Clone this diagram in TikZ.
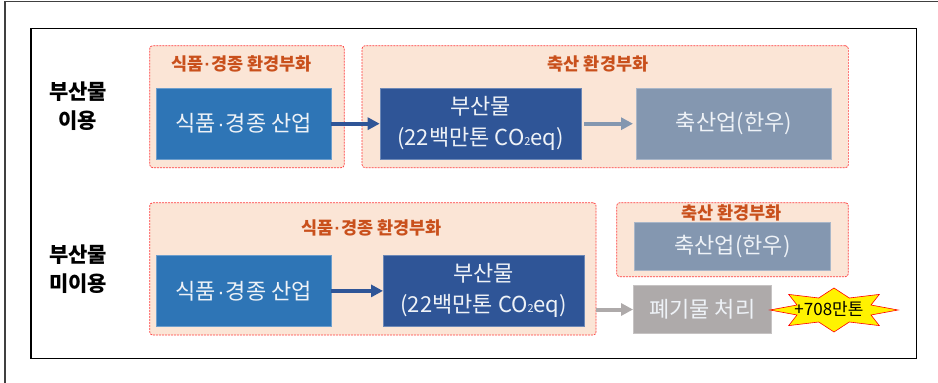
\documentclass[tikz,border=0pt]{standalone}
\usepackage{fontspec}
\setmainfont{Noto Sans CJK KR}
\newfontfamily\dotfont{Liberation Sans}
\usetikzlibrary{arrows.meta}
\definecolor{pinkfill}{HTML}{FBE5D6}
\definecolor{pinkline}{HTML}{FF3B3B}
\definecolor{lblorange}{HTML}{C9501C}
\definecolor{blueA}{HTML}{2E75B6}
\definecolor{blueB}{HTML}{2F5597}
\definecolor{grayblue}{HTML}{8497B0}
\definecolor{wastegray}{HTML}{AEAAAA}
\definecolor{boxtxt}{HTML}{EEF2F7}
\definecolor{outerframe}{HTML}{404040}
\newcommand{\mdot}{{\dotfont\kern0.05em·\kern0.05em}}
\begin{document}
\begin{tikzpicture}[x=1pt,y=-1pt,
  grp/.style={draw=pinkline, dash pattern=on 2pt off 1pt, line width=0.7pt, fill=pinkfill, rounded corners=3pt, inner sep=0pt},
  grplbl/.style={text=lblorange, font=\bfseries\fontsize{17.5}{19}\selectfont, inner sep=0pt},
  boxnode/.style={draw=#1!70!white, line width=0.6pt, fill=#1, text=boxtxt, font=\fontsize{22}{31}\selectfont, align=center, inner sep=0pt},
  sidelbl/.style={font=\bfseries\fontsize{21}{29}\selectfont, align=center, inner sep=0pt},
  arr/.style={-{Triangle[length=12pt,width=12pt]}, line width=4pt}]
\useasboundingbox (0,0) rectangle (938,383);
\clip (0,0) rectangle (938,383);
\fill[white] (0,0) rectangle (938,383);
\draw[outerframe, line width=1.3pt] (5,1.5) rectangle (960,400);
\draw[black, line width=1.5pt] (31,28.3) rectangle (916.7,358.3);

% side labels
\node[sidelbl] (s1) at (78,106) {부산물\\이용};
\node[sidelbl] (s2) at (78,269.5) {부산물\\미이용};

% top row
\node[grp, minimum width=194.6pt, minimum height=122pt] (g1) at (247,106.7) {};
\node[grplbl] (l1) at (241.7,64.3) {식품\mdot 경종 환경부화};
\node[boxnode=blueA, minimum width=174.7pt, minimum height=70.7pt] (b1) at (243.7,123.7) {식품\mdot 경종 산업};
\node[grp, minimum width=486.3pt, minimum height=122pt] (g2) at (605.2,106.7) {};
\node[grplbl] (l2) at (598,64.3) {축산 환경부화};
\node[boxnode=blueB, minimum width=201pt, minimum height=70.7pt] (b2) at (480.5,123.7) {부산물\\(22백만톤 CO{\fontsize{11}{11}\selectfont 2}eq)};
\node[boxnode=grayblue, minimum width=195.4pt, minimum height=70.7pt] (b3) at (734,123.7) {축산업(한우)};
\draw[arr, blueB] (b1) -- (b2);
\draw[arr, grayblue, shorten <=3pt, shorten >=3pt] (b2) -- (b3);

% bottom row
\node[grp, minimum width=446.3pt, minimum height=132.3pt] (g3) at (372.9,268.9) {};
\node[grplbl] (l3) at (371.7,227.7) {식품\mdot 경종 환경부화};
\node[boxnode=blueA, minimum width=174.7pt, minimum height=70.3pt] (c1) at (243.7,290.9) {식품\mdot 경종 산업};
\node[boxnode=blueB, minimum width=201pt, minimum height=70.3pt] (c2) at (483.8,290.9) {부산물\\(22백만톤 CO{\fontsize{11}{11}\selectfont 2}eq)};
\node[grp, minimum width=231.6pt, minimum height=74pt] (g4) at (732.5,239.7) {};
\node[grplbl] (l4) at (731.7,213.3) {축산 환경부화};
\node[boxnode=grayblue, minimum width=196.4pt, minimum height=48pt] (c3) at (732.5,246.7) {축산업(한우)};
\node[boxnode=wastegray, minimum width=137.7pt, minimum height=47.6pt] (w) at (702.2,309.5) {폐기물 처리};
\draw[arr, blueB] (c1) -- (c2);
\draw[arr, wastegray] (g3.east |- w.west) -- (w.west);

% starburst
\draw[fill=yellow, draw=red, line width=0.6pt]
  (898,310) -- (871,305) -- (879.3,294.4) -- (849.3,298) -- (834,288) -- (818.7,298)
  -- (788.7,294.4) -- (797,305) -- (770,310) -- (797,315) -- (788.7,325.6) -- (818.7,322)
  -- (834,332) -- (849.3,322) -- (879.3,325.6) -- (871,315) -- cycle;
\node[inner sep=0pt, font=\fontsize{17}{19}\selectfont] (st) at (829,308.5) {+708만톤};
\end{tikzpicture}
\end{document}
